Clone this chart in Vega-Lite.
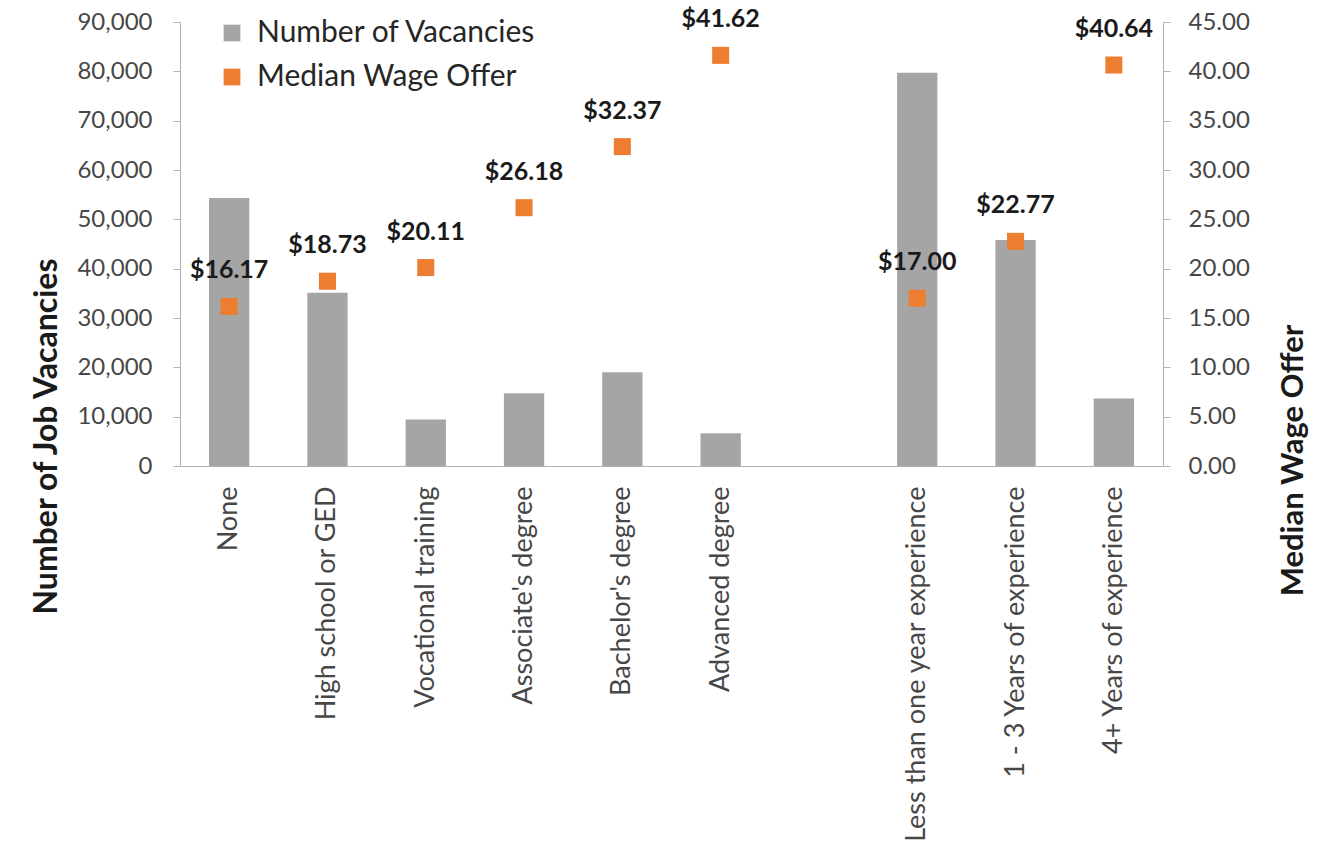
{
  "$schema": "https://vega.github.io/schema/vega-lite/v6.json",
  "autosize": {"type": "none"},
  "padding": {"left": 180, "top": 22, "right": 154, "bottom": 381},
  "width": 983,
  "height": 444,
  "background": "white",
  "config": {
    "font": "Lato",
    "view": {"stroke": null},
    "axis": {"domainColor": "#b3b3b3", "tickColor": "#b3b3b3", "labelColor": "#474747", "titleColor": "#1a1a1a", "grid": false, "labelFont": "Lato", "titleFont": "Lato"}
  },
  "data": {
    "values": [
      {"category": "None", "vacancies": 54300, "wage": 16.17},
      {"category": "High school or GED", "vacancies": 35100, "wage": 18.73},
      {"category": "Vocational training", "vacancies": 9450, "wage": 20.11},
      {"category": "Associate's degree", "vacancies": 14750, "wage": 26.18},
      {"category": "Bachelor's degree", "vacancies": 19000, "wage": 32.37},
      {"category": "Advanced degree", "vacancies": 6650, "wage": 41.62},
      {"category": "Less than one year experience", "vacancies": 79700, "wage": 17.0},
      {"category": "1 - 3 Years of experience", "vacancies": 45800, "wage": 22.77},
      {"category": "4+ Years of experience", "vacancies": 13700, "wage": 40.64}
    ]
  },
  "encoding": {
    "x": {
      "field": "category",
      "type": "nominal",
      "sort": null,
      "scale": {
        "domain": ["None", "High school or GED", "Vocational training", "Associate's degree", "Bachelor's degree", "Advanced degree", " ", "Less than one year experience", "1 - 3 Years of experience", "4+ Years of experience"],
        "paddingInner": 0.59,
        "paddingOuter": 0.295
      },
      "axis": {"title": null, "labelAngle": 270, "labelAlign": "right", "labelBaseline": "middle", "labelPadding": 20, "ticks": false, "labelFontSize": 27, "labelLimit": 600}
    }
  },
  "layer": [
    {
      "mark": {"type": "bar", "color": "#A5A5A5"},
      "encoding": {
        "y": {
          "field": "vacancies",
          "type": "quantitative",
          "scale": {"domain": [0, 90000], "nice": false},
          "axis": {
            "orient": "left",
            "values": [0, 10000, 20000, 30000, 40000, 50000, 60000, 70000, 80000, 90000],
            "format": ",.0f",
            "labelFontSize": 24,
            "tickSize": 7,
            "labelPadding": 21,
            "title": "Number of Job Vacancies",
            "titleFontSize": 32,
            "titleFontWeight": "bold",
            "titleAngle": 270,
            "titleX": -134,
            "titleY": 414,
            "titleAlign": "center",
            "titleBaseline": "middle"
          }
        },
        "color": {
          "datum": "Number of Vacancies",
          "type": "nominal",
          "scale": {"domain": ["Number of Vacancies", "Median Wage Offer"], "range": ["#A5A5A5", "#ED7D31"]},
          "legend": {
            "title": null,
            "orient": "none",
            "legendX": 37,
            "legendY": -4,
            "symbolType": "square",
            "symbolSize": 280,
            "symbolStrokeWidth": 0,
            "labelFontSize": 30,
            "labelColor": "#262626",
            "labelFont": "Lato",
            "labelLimit": 600,
            "rowPadding": 14,
            "labelOffset": 10
          }
        }
      }
    },
    {
      "layer": [
        {
          "mark": {"type": "point", "shape": "square", "filled": true, "opacity": 1, "size": 290},
          "encoding": {
            "color": {"datum": "Median Wage Offer", "type": "nominal"}
          }
        },
        {
          "mark": {"type": "text", "dy": -36, "fontSize": 25, "fontWeight": "bold", "color": "#1a1a1a", "font": "Lato"},
          "encoding": {
            "text": {"field": "wage", "type": "quantitative", "format": "$.2f"}
          }
        }
      ],
      "encoding": {
        "y": {
          "field": "wage",
          "type": "quantitative",
          "scale": {"domain": [0, 45], "nice": false},
          "axis": {
            "orient": "right",
            "values": [0, 5, 10, 15, 20, 25, 30, 35, 40, 45],
            "format": ".2f",
            "labelFontSize": 24,
            "tickSize": 7,
            "labelPadding": 18,
            "title": "Median Wage Offer",
            "titleFontSize": 31,
            "titleFontWeight": "bold",
            "titleAngle": 270,
            "titleX": 130,
            "titleY": 438,
            "titleAlign": "center",
            "titleBaseline": "middle"
          }
        }
      }
    }
  ],
  "resolve": {"scale": {"y": "independent"}}
}
